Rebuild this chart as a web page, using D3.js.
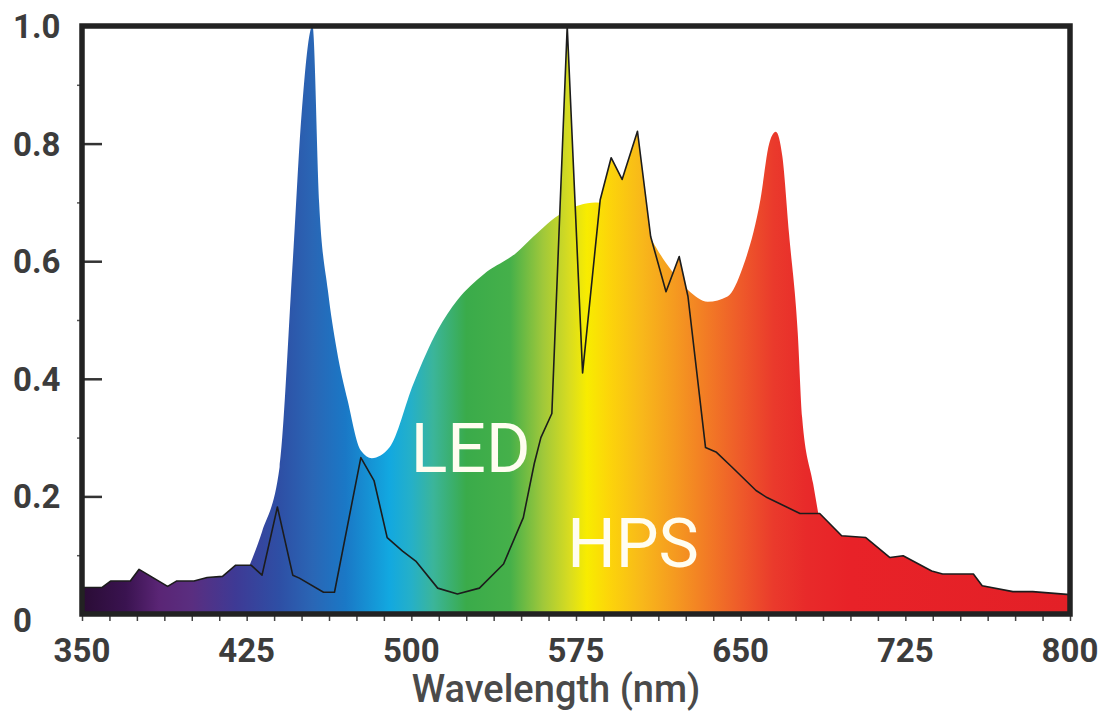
<!DOCTYPE html>
<html>
<head>
<meta charset="utf-8">
<script src="https://cdn.jsdelivr.net/npm/d3@7"></script>
<style>
  body { margin: 0; background: #fff; }
  svg { display: block; font-family: Roboto, "Noto Sans", sans-serif; }
</style>
</head>
<body>
<div id="chart"></div>
<script>
// HPS spectrum (black outline)
var hpsNm = [350, 359, 363, 372, 376, 389, 393, 401, 407, 414, 420, 427, 432, 439, 446, 449,
  460, 465, 477, 483, 489, 496, 502, 512, 521, 531, 542, 551, 556, 559, 564, 571, 578,
  586, 591, 596, 603, 609, 616, 622, 626, 634, 639, 646, 657, 662, 677, 686, 696, 707,
  718, 724, 737, 742, 756, 760, 774, 783, 800];
var hpsVal = [0.045, 0.045, 0.056, 0.056, 0.076, 0.047, 0.056, 0.056, 0.062, 0.064, 0.083, 0.083, 0.066, 0.182, 0.066, 0.061,
  0.037, 0.037, 0.266, 0.227, 0.13, 0.107, 0.09, 0.044, 0.034, 0.044, 0.085, 0.164, 0.256, 0.30, 0.341, 1.0, 0.41,
  0.704, 0.776, 0.739, 0.821, 0.642, 0.548, 0.608, 0.54, 0.283, 0.275, 0.25, 0.21, 0.198, 0.171, 0.171, 0.133, 0.130,
  0.096, 0.099, 0.073, 0.068, 0.068, 0.048, 0.038, 0.038, 0.033];

// LED spectrum (soft edge)
var ledNm = [350, 420, 426, 432, 440, 446, 450, 455, 458, 462, 466, 471, 477, 482, 490, 501,
  512, 521, 533, 548, 555, 569, 584, 595, 605, 616, 626, 635, 644, 651, 659, 663, 666,
  669, 672, 676, 678, 683, 688, 695, 710, 800];
var ledVal = [0.02, 0.03, 0.08, 0.14, 0.25, 0.6, 0.85, 1.0, 0.7, 0.55, 0.45, 0.363, 0.278, 0.265, 0.283, 0.392,
  0.483, 0.534, 0.578, 0.615, 0.64, 0.683, 0.70, 0.69, 0.66, 0.597, 0.551, 0.531, 0.54, 0.59, 0.705, 0.80, 0.82,
  0.778, 0.648, 0.478, 0.334, 0.222, 0.12, 0.05, 0.02, 0.01];

// spectrum colours along wavelength
var specNm = [350, 370, 385, 400, 420, 440, 455, 470, 490, 500, 510, 525, 545, 560, 572, 580, 590, 605, 620, 635, 650, 665, 680, 700, 800];
var specCol = ["#2a0c35", "#3a1350", "#5a2575", "#5a2e80", "#3e3a95", "#2e4fa5", "#2a66b5", "#1a78c6", "#12a8e0", "#25b0c8",
  "#3bb59a", "#3aab4a", "#45b04a", "#a0c83a", "#d8dc20", "#f8ec00", "#fcd50a", "#f8b81a", "#f59a20", "#f27a25",
  "#ee5a2a", "#ea3a2c", "#e82a2a", "#e82228", "#e32027"];

var xMinor = d3.range(350, 800.1, 12.5);
var xMajor = [350, 425, 500, 575, 650, 725, 800];
var yMajor = [0, 0.2, 0.4, 0.6, 0.8, 1.0];
var yMinor = [0.1, 0.3, 0.5, 0.7, 0.9];

var width = 1111, height = 715;
var mLeft = 82, mRight = 1070, mTop = 26, mBottom = 614;

var svg = d3.select("#chart")
  .append("svg")
  .attr("width", width)
  .attr("height", height);

var x = d3.scaleLinear().domain([350, 800]).range([mLeft, mRight]);
var y = d3.scaleLinear().domain([0, 1]).range([mBottom, mTop]);

// gradient
var grad = svg.append("defs").append("linearGradient")
  .attr("id", "spec")
  .attr("gradientUnits", "userSpaceOnUse")
  .attr("x1", x(350)).attr("x2", x(800))
  .attr("y1", 0).attr("y2", 0);
grad.selectAll("stop")
  .data(specNm)
  .enter()
  .append("stop")
  .attr("offset", function (d) { return (d - 350) / 450; })
  .attr("stop-color", function (d, i) { return specCol[i]; });

var led = ledNm.map(function (d, i) { return [d, ledVal[i]]; });
var hps = hpsNm.map(function (d, i) { return [d, hpsVal[i]]; });

var ledArea = d3.area()
  .x(function (d) { return x(d[0]); })
  .y0(y(0))
  .y1(function (d) { return y(d[1]); })
  .curve(d3.curveMonotoneX);

var hpsArea = d3.area()
  .x(function (d) { return x(d[0]); })
  .y0(y(0))
  .y1(function (d) { return y(d[1]); });

var hpsLine = d3.line()
  .x(function (d) { return x(d[0]); })
  .y(function (d) { return y(d[1]); });

svg.append("path")
  .datum(led)
  .attr("d", ledArea)
  .attr("fill", "url(#spec)");

svg.append("path")
  .datum(hps)
  .attr("d", hpsArea)
  .attr("fill", "url(#spec)");

svg.append("path")
  .datum(hps)
  .attr("d", hpsLine)
  .attr("fill", "none")
  .attr("stroke", "#1c1c1c")
  .attr("stroke-width", 1.6)
  .attr("stroke-linejoin", "round");

// labels inside the plot
svg.append("text")
  .attr("x", x(527))
  .attr("y", 472)
  .attr("text-anchor", "middle")
  .attr("font-size", 68)
  .attr("fill", "#fffdf0")
  .text("LED");

svg.append("text")
  .attr("x", x(601))
  .attr("y", 567)
  .attr("text-anchor", "middle")
  .attr("font-size", 68)
  .attr("fill", "#fffdf0")
  .text("HPS");

// x axis ticks
svg.append("g")
  .attr("transform", "translate(0," + mBottom + ")")
  .call(d3.axisBottom(x).tickValues(xMinor).tickSize(7).tickFormat(""))
  .call(function (g) { g.select(".domain").remove(); })
  .selectAll("line").attr("stroke", "#444").attr("stroke-width", 1.5);

svg.append("g")
  .selectAll("text")
  .data(xMajor)
  .enter()
  .append("text")
  .attr("x", function (d) { return x(d); })
  .attr("y", 662)
  .attr("text-anchor", "middle")
  .attr("font-size", 33)
  .attr("font-weight", 700)
  .attr("fill", "#3c3c3c")
  .text(function (d) { return d; });

// y axis ticks
svg.append("g")
  .attr("transform", "translate(" + mLeft + ",0)")
  .call(d3.axisRight(y).tickValues(yMajor).tickSize(20).tickFormat(""))
  .call(function (g) { g.select(".domain").remove(); })
  .selectAll("line").attr("stroke", "#333").attr("stroke-width", 2.5);

svg.append("g")
  .attr("transform", "translate(" + mLeft + ",0)")
  .call(d3.axisLeft(y).tickValues(yMinor).tickSize(5).tickFormat(""))
  .call(function (g) { g.select(".domain").remove(); })
  .selectAll("line").attr("stroke", "#555").attr("stroke-width", 1.5);

svg.append("g")
  .selectAll("text")
  .data(yMajor)
  .enter()
  .append("text")
  .attr("x", 13)
  .attr("y", function (d) { return y(d) + (d === 0 ? 18 : 12); })
  .attr("font-size", 33)
  .attr("font-weight", 700)
  .attr("fill", "#3c3c3c")
  .text(function (d) { return d === 0 ? "0" : d3.format(".1f")(d); });

// frame
svg.append("rect")
  .attr("x", mLeft)
  .attr("y", mTop)
  .attr("width", mRight - mLeft)
  .attr("height", mBottom - mTop)
  .attr("fill", "none")
  .attr("stroke", "#222")
  .attr("stroke-width", 5.5);

// axis title
svg.append("text")
  .attr("x", 556)
  .attr("y", 702)
  .attr("text-anchor", "middle")
  .attr("font-size", 38)
  .attr("font-weight", 500)
  .attr("fill", "#4a4a4a")
  .text("Wavelength (nm)");
</script>
</body>
</html>
